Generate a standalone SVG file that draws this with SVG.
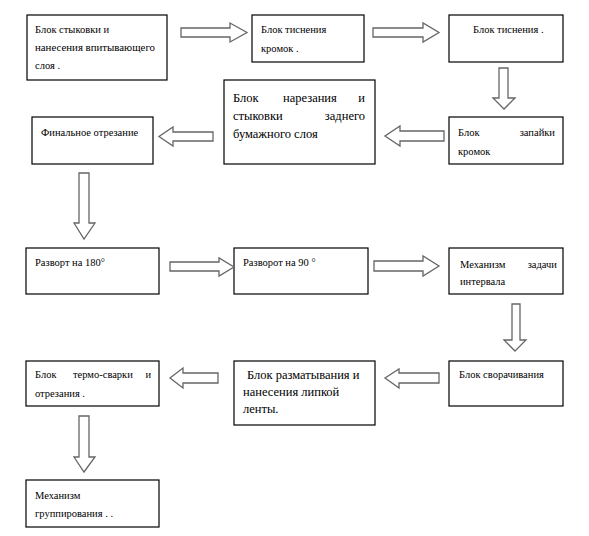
<svg xmlns="http://www.w3.org/2000/svg" width="589" height="536" viewBox="0 0 589 536">
<style>
.box{fill:#fff;stroke:#000;stroke-width:1.2}
.t{font-family:'Liberation Serif','DejaVu Serif',serif;font-size:10.5px;fill:#000}
.tl{font-family:'Liberation Serif','DejaVu Serif',serif;font-size:12.5px;fill:#000}
.e{text-anchor:end}
.arr{fill:#fff;stroke:#666;stroke-width:1.3;stroke-linejoin:miter}
</style>
<rect width="589" height="536" fill="#fff"/>
<g id="n1"><rect class="box" x="27" y="15" width="140" height="65"/>
<text class="t" x="35" y="33">Блок стыковки и</text>
<text class="t" x="35" y="51" textLength="120" lengthAdjust="spacingAndGlyphs">нанесения впитывающего</text>
<text class="t" x="35" y="69">слоя  .</text></g>
<g id="n2"><rect class="box" x="252" y="15" width="112" height="47"/>
<text class="t" x="261" y="33">Блок тиснения</text>
<text class="t" x="261" y="52">кромок  .</text></g>
<g id="n3"><rect class="box" x="449" y="15" width="114" height="47"/>
<text class="t" x="473" y="33">Блок тиснения  .</text></g>
<g id="n4"><rect class="box" x="449" y="117" width="114" height="47"/>
<text class="t" x="458" y="136">Блок</text><text class="t e" x="555" y="136">запайки</text>
<text class="t" x="458" y="155">кромок</text></g>
<g id="n5"><rect class="box" x="224" y="80" width="151" height="84"/>
<text class="tl" x="233" y="102">Блок</text><text class="tl" x="283" y="102">нарезания</text><text class="tl e" x="365" y="102">и</text>
<text class="tl" x="233" y="120">стыковки</text><text class="tl e" x="365" y="120">заднего</text>
<text class="tl" x="233" y="138">бумажного слоя</text></g>
<g id="n6"><rect class="box" x="32" y="117" width="121" height="47"/>
<text class="t" x="41" y="136">Финальное отрезание</text></g>
<g id="n7"><rect class="box" x="26" y="248" width="133" height="46"/>
<text class="t" x="35" y="266">Разворт на 180°</text></g>
<g id="n8"><rect class="box" x="234" y="248" width="134" height="46"/>
<text class="t" x="243" y="266">Разворот на 90 °</text></g>
<g id="n9"><rect class="box" x="449" y="248" width="114" height="46"/>
<text class="t" x="460" y="268">Механизм</text><text class="t e" x="557" y="268">задачи</text>
<text class="t" x="460" y="285">интервала</text></g>
<g id="n10"><rect class="box" x="449" y="361" width="114" height="45"/>
<text class="t" x="459" y="378">Блок сворачивания</text></g>
<g id="n11"><rect class="box" x="234" y="361" width="141" height="64"/>
<text class="tl" x="247" y="379">Блок разматывания и</text>
<text class="tl" x="243" y="396">нанесения липкой</text>
<text class="tl" x="243" y="413">ленты.</text></g>
<g id="n12"><rect class="box" x="26" y="361" width="133" height="45"/>
<text class="t" x="35" y="378">Блок</text><text class="t" x="73" y="378">термо-сварки</text><text class="t e" x="151" y="378">и</text>
<text class="t" x="35" y="397">отрезания  .</text></g>
<g id="n13"><rect class="box" x="26" y="480" width="133" height="47"/>
<text class="t" x="35" y="499">Механизм</text>
<text class="t" x="35" y="517">группирования . .</text></g>
<g id="connectors">
<path class="arr" d="M181,28 L230,28 L230,23 L247,32.5 L230,42 L230,37 L181,37 Z"/>
<path class="arr" d="M373,28 L423,28 L423,23 L439,32.5 L423,42 L423,37 L373,37 Z"/>
<path class="arr" d="M499,68 L508,68 L508,98 L515,98 L504,109 L493,98 L499,98 Z"/>
<path class="arr" d="M444,131 L400,131 L400,126 L385,136 L400,146 L400,141 L444,141 Z"/>
<path class="arr" d="M213,132 L173,132 L173,127 L159,136.5 L173,146 L173,141 L213,141 Z"/>
<path class="arr" d="M79,173 L89,173 L89,223 L95,223 L84,239 L74,223 L79,223 Z"/>
<path class="arr" d="M170,262 L219,262 L219,258 L234,267 L219,276 L219,271 L170,271 Z"/>
<path class="arr" d="M374,261 L423,261 L423,256 L439,266 L423,276 L423,271 L374,271 Z"/>
<path class="arr" d="M512,304 L520,304 L520,340 L526,340 L515,351 L504,340 L512,340 Z"/>
<path class="arr" d="M439,373 L399,373 L399,369 L385,378 L399,388 L399,383 L439,383 Z"/>
<path class="arr" d="M218,373 L183,373 L183,368 L170,378 L183,388 L183,383 L218,383 Z"/>
<path class="arr" d="M79,416 L89,416 L89,457 L95,457 L84,472 L74,457 L79,457 Z"/>
</g>
</svg>
